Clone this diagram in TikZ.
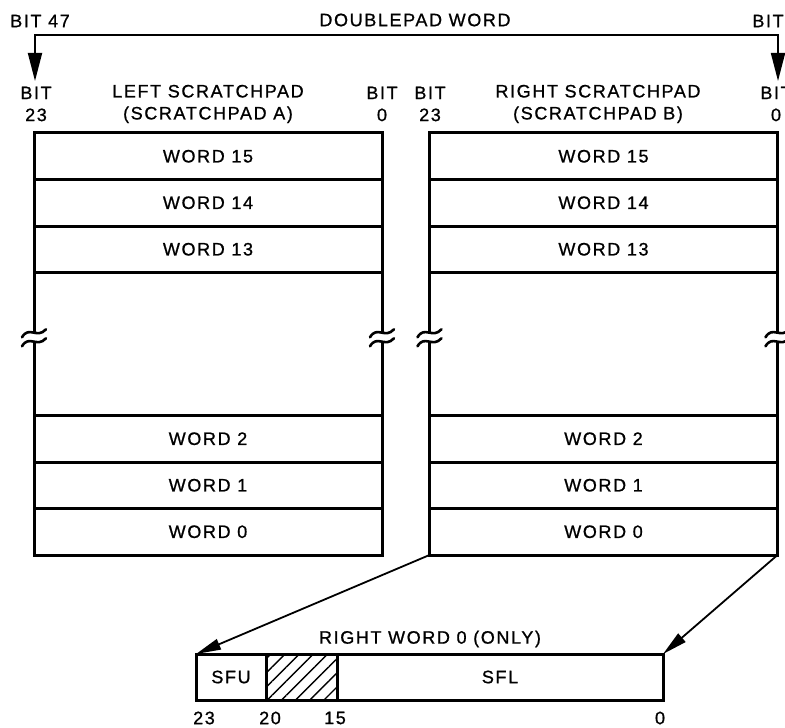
\documentclass[tikz,border=0pt]{standalone}
\usepackage{fontspec}
\setmainfont[LetterSpace=9,FakeBold=0.9]{Liberation Sans}
\usetikzlibrary{arrows.meta,patterns.meta,calc}

\tikzset{
    word/.style = {
        draw,
        line width=1.5pt,
        minimum width=174pt,
        minimum height=23.25pt,
        inner sep=0,
        outer sep=0,
        font=\fontsize{9}{11}\selectfont,
    },
    field/.style = {
        word,
        minimum height=23pt,
    },
    caption/.style = {
        align=center,
        inner sep=0,
        outer sep=0,
        font=\fontsize{9}{11}\selectfont,
    },
    frame/.style = {
        line width=1.5pt,
    },
    pointer/.style = {
        line width=0.9pt,
        -{Triangle[length=12.5pt,width=5.5pt]},
    },
    brk/.pic = {
        \fill[white] (-12,-1) .. controls (-5,-13) and (3,1) .. (12,-9)
            -- (12,0) .. controls (3,10) and (-5,-4) .. (-12,8) -- cycle;
        \draw[line width=1.3pt, line cap=round]
            (-12,-1) .. controls (-5,-13) and (3,1) .. (12,-9);
        \draw[line width=1.3pt, line cap=round]
            (-12,8) .. controls (-5,-4) and (3,10) .. (12,0);
    },
}

\begin{document}
\begin{tikzpicture}[x=0.5pt, y=-0.5pt]
    \useasboundingbox (0,0) rectangle (785,727);

    % heading and doublepad connector
    \node[caption] (dpword) at (415,20) {DOUBLEPAD WORD};
    \node[caption] (bit47) at (40,21) {BIT 47};
    \node[caption] (bitend) at (768,21) {BIT};
    \coordinate (tipl) at (35,81);
    \coordinate (tipr) at (778,81);
    \draw[line width=0.9pt, {Triangle[length=14pt,width=7pt]}-{Triangle[length=14pt,width=7pt]}]
        (tipl) -- ++(0,-46) -| (tipr);

    % labels over the scratchpads
    \node[caption] (la23) at (36,104) {BIT\\23};
    \node[caption] (lahead) at (208,104) {LEFT SCRATCHPAD\\(SCRATCHPAD A)};
    \node[caption] (la0) at (382,104) {BIT\\0};
    \node[caption] (rb23) at (430,104) {BIT\\23};
    \node[caption] (rbhead) at (598,104) {RIGHT SCRATCHPAD\\(SCRATCHPAD B)};
    \node[caption] (rb0) at (776,104) {BIT\\0};

    % scratchpad words
    \foreach \w [count=\i] in {15,14,13} {
        \node[word] (l\w) at (208,109.75+46.5*\i) {WORD \w};
        \node[word] (r\w) at (603.5,109.75+46.5*\i) {WORD \w};
    }
    \foreach \w [count=\i] in {2,1,0} {
        \node[word] (l\w) at (208,392.25+46.5*\i) {WORD \w};
        \node[word] (r\w) at (603.5,392.25+46.5*\i) {WORD \w};
    }

    % open sides with break marks
    \foreach \s in {l,r} {
        \draw[frame] (\s13.south west) -- (\s2.north west);
        \draw[frame] (\s13.south east) -- (\s2.north east);
        \pic at ($(\s13.south west)!0.46!(\s2.north west)$) {brk};
        \pic at ($(\s13.south east)!0.46!(\s2.north east)$) {brk};
    }

    % right word 0
    \node[caption] (rw0head) at (430,639) {RIGHT WORD 0 (ONLY)};
    \node[field, minimum width=35pt] (sfu) at (231,677) {SFU};
    \node[field, minimum width=35.5pt,
        pattern={Lines[angle=45,distance=5pt,line width=0.7pt]}] (spare) at (301.5,677) {};
    \node[field, minimum width=163pt] (sfl) at (500,677) {SFL};

    \node[caption] (b23) at (204,718) {23};
    \node[caption] (b20) at (270,718) {20};
    \node[caption] (b15) at (335,718) {15};
    \node[caption] (b0) at (660,718) {0};

    \draw[pointer] (r0.south west) -- (sfu.north west);
    \draw[pointer] (r0.south east) -- (sfl.north east);

\end{tikzpicture}
\end{document}
